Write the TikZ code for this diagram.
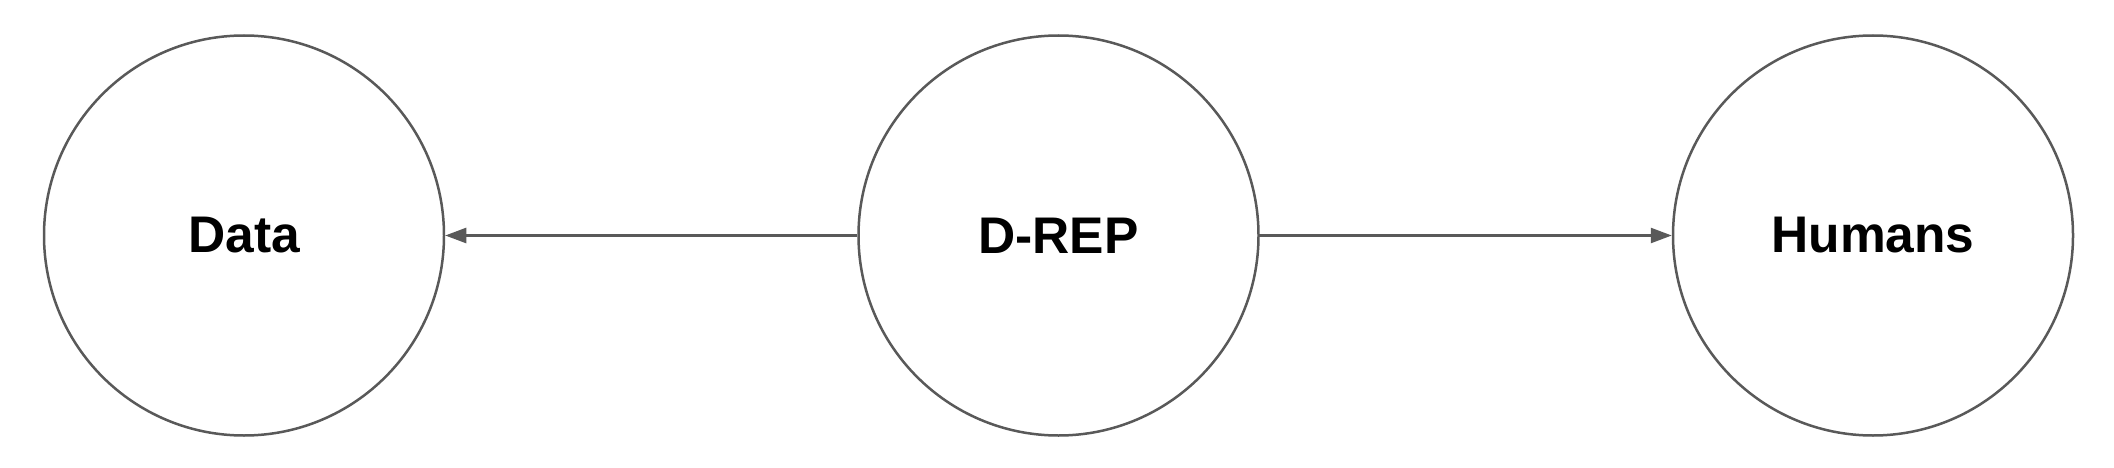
\documentclass[tikz,border=0pt]{standalone}
\usepackage{fontspec}
\setmainfont{Liberation Sans}
\usetikzlibrary{arrows.meta}
\definecolor{linegrey}{HTML}{595959}
\begin{document}
\begin{tikzpicture}[x=1pt,y=1pt,
  bubble/.style={circle, draw=linegrey, line width=2.5pt, minimum size=400pt, inner sep=0pt,
    font=\fontsize{51.5pt}{60pt}\selectfont\bfseries},
  conn/.style={draw=linegrey, line width=2.5pt, -{Triangle[length=21pt,width=15pt]}}]
\useasboundingbox[fill=white] (0,0) rectangle (2114,-468);
\node[bubble] (data) at (244,-235.5) {Data};
\node[bubble] (drep) at (1058.5,-235.5) {D-REP};
\node[bubble] (hum) at (1873,-235.5) {Humans};
\draw[conn] (drep.west) -- (data.east);
\draw[conn] (drep.east) -- (hum.west);
\end{tikzpicture}
\end{document}
